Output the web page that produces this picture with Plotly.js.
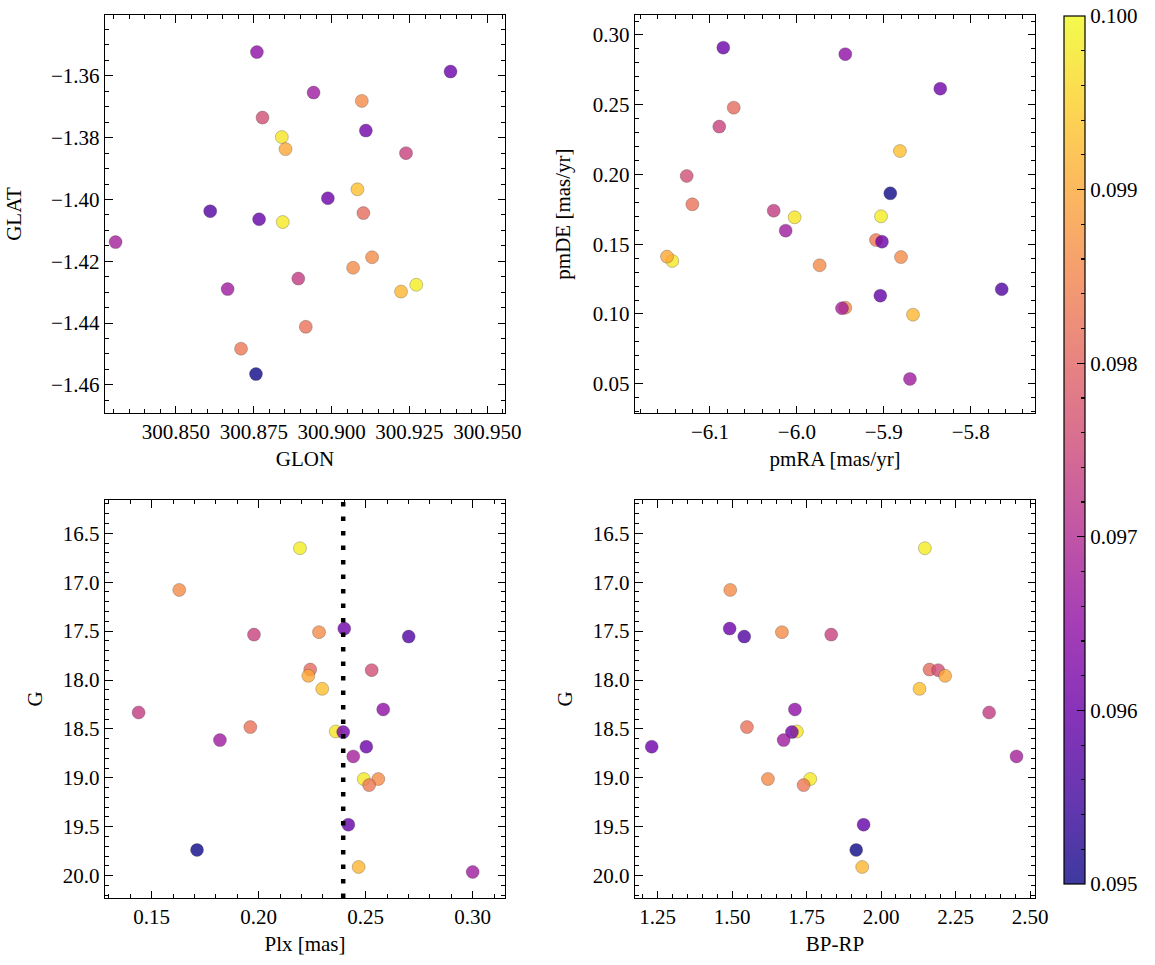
<!DOCTYPE html>
<html>
<head>
<meta charset="utf-8">
<script src="https://cdn.plot.ly/plotly-3.0.1.min.js"></script>
<style>html,body{margin:0;padding:0;background:#fff}#chart{width:1155px;height:965px}</style>
</head>
<body>
<div id="chart"></div>
<script>
// ---- data (one entry per star) ----
const G     = [16.653,17.079,17.536,17.511,17.474,17.556,17.893,17.899,18.090,18.332,18.301,18.481,18.526,18.532,18.614,18.781,19.012,19.012,19.074,18.682,17.957,19.479,19.737,19.911,19.962];
const Plx   = [0.2193,0.1629,0.1978,0.2282,0.2400,0.2701,0.2241,0.2528,0.2297,0.1439,0.2582,0.1961,0.2360,0.2395,0.1819,0.2442,0.2491,0.2559,0.2516,0.2503,0.2232,0.2419,0.1712,0.2467,0.3000];
const BPRP  = [2.147,1.4936,1.8326,1.6671,1.4916,1.5406,2.1627,2.1916,2.1292,2.3628,1.7107,1.5497,1.7174,1.7007,1.6728,2.4547,1.7621,1.6201,1.7399,1.2299,2.2151,1.9413,1.9165,1.9366,null];
const GLON  = [300.9272,300.9097,300.9239,300.9069,300.9382,300.8610,300.9102,300.8778,300.9083,300.8893,300.8760,300.8917,300.8840,300.9110,300.8942,300.8306,300.8843,300.9130,300.8709,300.8988,300.8852,300.8767,300.8757,300.9223,300.8666];
const GLAT  = [-1.4276,-1.3681,-1.3850,-1.4221,-1.3586,-1.4038,-1.4044,-1.3735,-1.3967,-1.4256,-1.3523,-1.4412,-1.3798,-1.3777,-1.3654,-1.4138,-1.4073,-1.4187,-1.4483,-1.3996,-1.3837,-1.4064,-1.4565,-1.4298,-1.4290];
const pmRA  = [-5.9032,-5.9738,-6.0893,-5.9443,-6.0847,-5.7643,-6.0727,-6.1268,-5.8814,-6.0267,-5.9443,-6.1203,-6.0026,-5.8350,-6.0129,-5.9481,-6.1434,-5.8802,-5.9090,-5.9021,-6.1495,-5.9040,-5.8925,-5.8664,-5.8699];
const pmDE  = [0.1700,0.1349,0.2343,0.1045,0.2909,0.1177,0.2479,0.1989,0.2168,0.1740,0.2862,0.1786,0.1693,0.2615,0.1597,0.1041,0.1380,0.1408,0.1530,0.1518,0.1411,0.1131,0.1865,0.0995,0.0534];
const cval  = [0.09985,0.0986,0.0974,0.0986,0.0960,0.0957,0.0981,0.0976,0.0993,0.0973,0.0965,0.0982,0.09975,0.0961,0.0967,0.0968,0.0998,0.0986,0.0983,0.0960,0.0990,0.0959,0.0950,0.0992,0.0967];
const plxRef = 0.2395;
const colorTicks = [0.095,0.096,0.097,0.098,0.099,0.100];
const colorMinorTicks = [0.0952,0.0954,0.0956,0.0958,0.0962,0.0964,0.0966,0.0968,0.0972,0.0974,0.0976,0.0978,
                         0.0982,0.0984,0.0986,0.0988,0.0992,0.0994,0.0996,0.0998];

// ---- style ----
const FONT = 'Liberation Serif, Times New Roman, serif';
const FS = 21;
const a = 0.8;
const plasma = [
  [0.0,'rgba(13,8,135,'+a+')'],[0.1,'rgba(65,4,157,'+a+')'],[0.2,'rgba(106,0,168,'+a+')'],
  [0.3,'rgba(143,13,164,'+a+')'],[0.4,'rgba(177,42,144,'+a+')'],[0.5,'rgba(204,71,120,'+a+')'],
  [0.6,'rgba(225,100,98,'+a+')'],[0.7,'rgba(242,132,75,'+a+')'],[0.8,'rgba(252,166,54,'+a+')'],
  [0.9,'rgba(252,206,37,'+a+')'],[1.0,'rgba(240,249,33,'+a+')']];
const clear = [[0,'rgba(0,0,0,0)'],[1,'rgba(0,0,0,0)']];

const W = 1155, H = 965;
const fx = p => p / W, fy = p => 1 - p / H;

function mk(xs, ys, xa, ya) {
  return {type:'scatter', mode:'markers', x:xs, y:ys, xaxis:xa, yaxis:ya,
    marker:{color:cval, coloraxis:'coloraxis', size:13,
            line:{width:0.5, color:'rgba(50,50,50,0.55)'}},
    hoverinfo:'x+y', showlegend:false};
}
const traces = [
  mk(GLON, GLAT, 'x', 'y'),
  mk(pmRA, pmDE, 'x2', 'y2'),
  mk(Plx, G, 'x3', 'y3'),
  mk(BPRP, G, 'x4', 'y4'),
  // invisible carrier for the minor-tick colour bar
  {type:'scatter', mode:'markers', x:[0.5], y:[0.5], xaxis:'x5', yaxis:'y5', showlegend:false,
   hoverinfo:'skip', marker:{color:[colorTicks[0]], coloraxis:'coloraxis2', opacity:0}}
];

function ax(domain, anchor, range, dtick, minorD, fmt, title, standoff, extra) {
  return Object.assign({
    domain: domain, anchor: anchor, range: range, autorange: false,
    showgrid:false, zeroline:false, showline:true, linecolor:'black', linewidth:1.2,
    mirror:'ticks', ticks:'inside', ticklen:7.5, tickwidth:1, tickcolor:'black',
    dtick: dtick, tick0: 0, tickformat: fmt,
    minor:{ticks:'inside', dtick:minorD, tick0:0, ticklen:4, tickwidth:1, tickcolor:'black', showgrid:false},
    tickfont:{family:FONT, size:FS, color:'black'},
    title:{text:title, font:{family:FONT, size:FS, color:'black'}, standoff:standoff},
    automargin:false
  }, extra || {});
}

const xL = [fx(105), fx(505)], xR = [fx(635), fx(1035)];
const yT = [fy(413), fy(15)], yB = [fy(898), fy(500)];

const cbBase = {x:fx(1064), xanchor:'left', xref:'paper', y:fy(884), yanchor:'bottom', yref:'paper',
      len:(884-16)/H, lenmode:'fraction', thickness:21, thicknessmode:'pixels',
      xpad:0, ypad:0, tickwidth:1.2, tickcolor:'black',
      tickfont:{family:FONT, size:FS, color:'black'}};

const layout = {
  width:W, height:H, margin:{l:0, r:0, t:0, b:0},
  paper_bgcolor:'white', plot_bgcolor:'white',
  font:{family:FONT, size:FS, color:'black'},
  xaxis:  ax(xL, 'y',  [300.8272, 300.9557], 0.025, 0.005, '.3f', 'GLON', 7),
  yaxis:  ax(yT, 'x',  [-1.4691, -1.3403], 0.02, 0.005, '.2f', 'GLAT', 23),
  xaxis2: ax(xR, 'y2', [-6.1863, -5.726], 0.1, 0.02, '.1f', 'pmRA [mas/yr]', 7),
  yaxis2: ax(yT, 'x2', [0.029, 0.3143], 0.05, 0.01, '.2f', 'pmDE [mas/yr]', 16),
  xaxis3: ax(xL, 'y3', [0.1282, 0.3151], 0.05, 0.01, '.2f', 'Plx [mas]', 7),
  yaxis3: ax(yB, 'x3', [20.228, 16.16], 0.5, 0.1, '.1f', 'G', 14),
  xaxis4: ax(xR, 'y4', [1.1738, 2.5168], 0.25, 0.05, '.2f', 'BP-RP', 7),
  yaxis4: ax(yB, 'x4', [20.228, 16.16], 0.5, 0.1, '.1f', 'G', 14),
  xaxis5: {domain:[fx(1064), fx(1085)], anchor:'y5', visible:false, range:[0,1], fixedrange:true},
  yaxis5: {domain:[fy(884), fy(16)], anchor:'x5', visible:false, range:[0,1], fixedrange:true},
  coloraxis:{cmin:0.095, cmax:0.100, colorscale:plasma,
    colorbar:Object.assign({}, cbBase, {outlinewidth:1.2, outlinecolor:'black',
      ticks:'inside', ticklen:8, tickvals:colorTicks, tickformat:'.3f'})},
  coloraxis2:{cmin:0.095, cmax:0.100, colorscale:clear,
    colorbar:Object.assign({}, cbBase, {outlinewidth:0, bgcolor:'rgba(0,0,0,0)',
      ticks:'inside', ticklen:4, tickvals:colorMinorTicks, showticklabels:false})},
  shapes:[{type:'line', xref:'x3', yref:'y3 domain', x0:plxRef, x1:plxRef, y0:0, y1:1,
           line:{color:'black', width:4.5, dash:'4.5px,10px'}, layer:'above'}]
};

Plotly.newPlot('chart', traces, layout, {displayModeBar:false, staticPlot:true});
</script>
</body>
</html>
